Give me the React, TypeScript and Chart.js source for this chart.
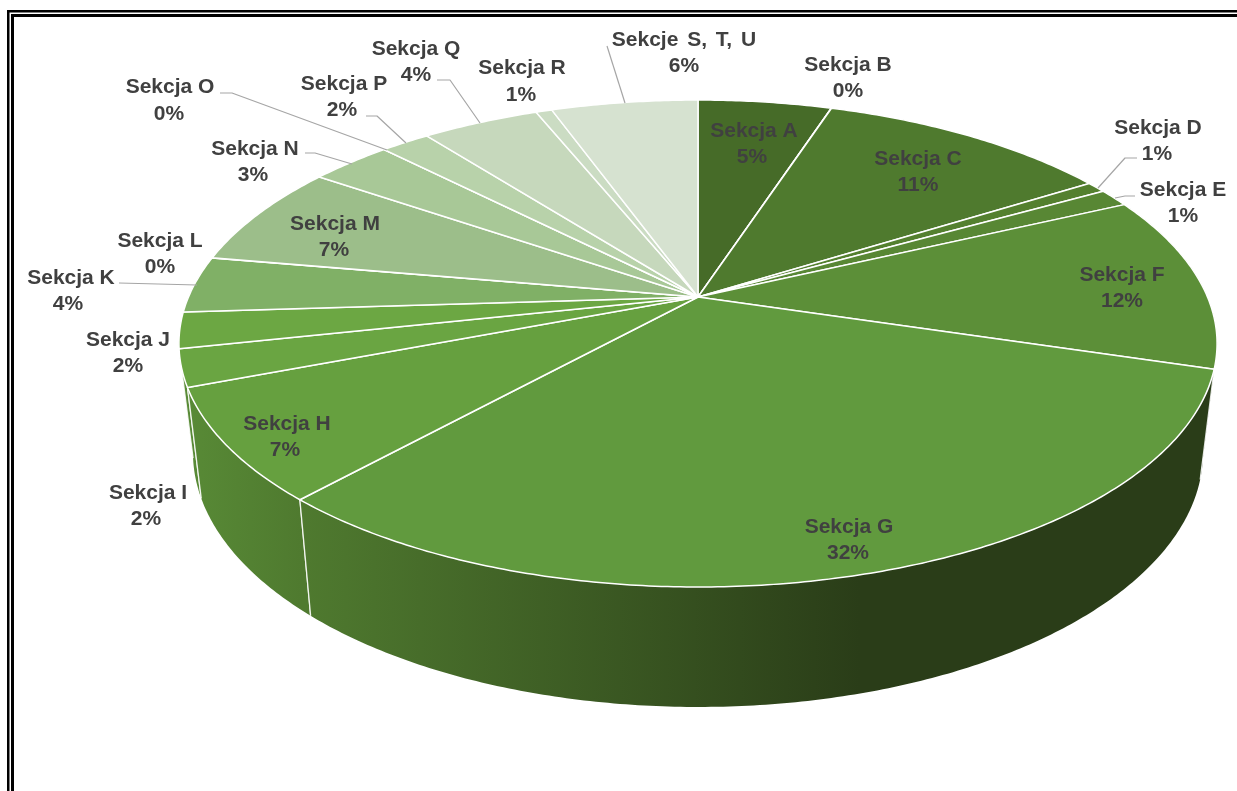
import React, { useEffect, useRef } from "react";
import { Chart, registerables } from "chart.js";

Chart.register(...registerables);

const categories = [
  "Sekcja A", "Sekcja B", "Sekcja C", "Sekcja D", "Sekcja E", "Sekcja F", "Sekcja G",
  "Sekcja H", "Sekcja I", "Sekcja J", "Sekcja K", "Sekcja L", "Sekcja M", "Sekcja N",
  "Sekcja O", "Sekcja P", "Sekcja Q", "Sekcja R", "Sekcje S, T, U",
];
const shares = [5, 0.01, 11.04, 0.75, 1.2, 11.7, 32, 7.45, 2.45, 2.4, 3.75, 0.01, 6.84, 3.05, 0.01, 1.84, 4.4, 0.6, 5.5];
const topColors = [
  "#466b28", "#4a7029", "#4f7a2e", "#54802f", "#588734", "#5c8f38", "#619a3e",
  "#66a03f", "#6aa542", "#6ca743", "#80b066", "#8cb676", "#9cbe8a", "#a8c897",
  "#aecb9f", "#b8d2aa", "#c6d8bc", "#cbdcc3", "#d6e2d0",
];
const wallFrom = [
  "#466b28", "#4a7029", "#4f7a2e", "#2a3d18", "#2a3d18", "#2a3d18", "#4f7a2f",
  "#588a36", "#5f903a", "#66a03f", "#6aa542", "#6aa542", "#6aa542", "#6aa542",
  "#6aa542", "#6aa542", "#6aa542", "#6aa542", "#6aa542",
];
const wallTo = [
  "#466b28", "#4a7029", "#4f7a2e", "#2a3d18", "#2a3d18", "#2a3d18", "#2a3d18",
  "#4f7a2f", "#588a36", "#66a03f", "#6aa542", "#6aa542", "#6aa542", "#6aa542",
  "#6aa542", "#6aa542", "#6aa542", "#6aa542", "#6aa542",
];
// Label anchors (layout only): name centre x/y, percent centre x/y.
const labelAnchors = [
  [754, 130, 752, 156], [848, 64, 848, 90], [918, 158, 918, 184], [1158, 127, 1157, 153],
  [1183, 189, 1183, 215], [1122, 274, 1122, 300], [849, 526, 848, 552], [287, 423, 285, 449],
  [148, 492, 146, 518], [128, 339, 128, 365], [71, 277, 68, 303], [160, 240, 160, 266],
  [335, 223, 334, 249], [255, 148, 253, 174], [170, 86, 169, 113], [344, 83, 342, 109],
  [416, 48, 416, 74], [522, 67, 521, 94], [684, 39, 684, 65],
];
const leaders = [
  [[220, 93], [232, 93], [387, 150]],
  [[366, 116], [377, 116], [406, 143]],
  [[305, 153], [315, 153], [352, 164]],
  [[437, 80], [450, 80], [480, 123]],
  [[607, 46], [625, 103]],
  [[1137, 158], [1125, 158], [1098, 188]],
  [[1135, 196], [1125, 196], [1115, 198]],
  [[119, 283], [197, 285]],
];

const CX = 698, CY = 297, A = 509.5, B = 234.6, K = -0.191;

function project(theta: number) {
  const u = Math.cos(theta), v = Math.sin(theta);
  const d = 1 + K * v;
  return [CX + (A * u) / d, CY + (B * v) / d];
}
function lower(p: number[]) {
  return [CX + (p[0] - CX) * 0.973, p[1] + 116 + (p[1] - 499) * 0.045];
}
function arcPoints(a0: number, a1: number) {
  const n = Math.max(2, Math.ceil((a1 - a0) / 0.01));
  const pts: number[][] = [];
  for (let i = 0; i <= n; i++) pts.push(project(a0 + ((a1 - a0) * i) / n));
  return pts;
}

const tiltedPie = {
  id: "tiltedPie",
  beforeDraw(chart: any) {
    const c = chart.ctx;
    c.save();
    c.fillStyle = "#ffffff";
    c.fillRect(0, 0, chart.width, chart.height);
    c.fillStyle = "#000000";
    c.fillRect(7, 10, 1230, 2.5);
    c.fillRect(7, 10, 2.5, 781);
    c.fillRect(11, 14, 1226, 3);
    c.fillRect(11, 14, 3, 777);
    c.restore();
  },
  beforeDatasetsDraw(chart: any) {
    const c = chart.ctx;
    const arcs = chart.getDatasetMeta(0).data;
    c.save();
    c.lineJoin = "round";
    // walls, back to front
    const order = arcs
      .map((a: any, i: number) => ({ a, i, v: Math.sin((a.startAngle + a.endAngle) / 2) }))
      .filter((o: any) => o.v > -0.35)
      .sort((p: any, q: any) => p.v - q.v);
    for (const { a, i } of order) {
      const top = arcPoints(a.startAngle, a.endAngle);
      const low = top.map(lower).reverse();
      const x0 = Math.min(top[0][0], top[top.length - 1][0]);
      const x1 = i === 6 ? 860 : Math.max(top[0][0], top[top.length - 1][0]) + 1;
      const g = c.createLinearGradient(x0, 0, x1, 0);
      g.addColorStop(0, wallFrom[i]);
      g.addColorStop(1, wallTo[i]);
      c.beginPath();
      [...top, ...low].forEach((p, k) => (k ? c.lineTo(p[0], p[1]) : c.moveTo(p[0], p[1])));
      c.closePath();
      c.fillStyle = g;
      c.fill();
      c.strokeStyle = i >= 3 && i <= 5 ? "rgba(0,0,0,0)" : "rgba(255,255,255,0.85)";
      c.lineWidth = 1.3;
      c.beginPath();
      const e0 = top[0], e1 = top[top.length - 1];
      const l0 = lower(e0), l1 = lower(e1);
      c.moveTo(e0[0], e0[1]);
      c.lineTo(l0[0], l0[1]);
      c.moveTo(e1[0], e1[1]);
      c.lineTo(l1[0], l1[1]);
      c.stroke();
    }
    // top surface
    arcs.forEach((a: any) => {
      const pts = arcPoints(a.startAngle, a.endAngle);
      c.beginPath();
      c.moveTo(CX, CY);
      pts.forEach((p) => c.lineTo(p[0], p[1]));
      c.closePath();
      c.fillStyle = a.options.backgroundColor;
      c.fill();
      c.strokeStyle = a.options.borderColor;
      c.lineWidth = a.options.borderWidth;
      c.stroke();
    });
    // leaders
    c.strokeStyle = "#a6a6a6";
    c.lineWidth = 1.2;
    leaders.forEach((l) => {
      c.beginPath();
      l.forEach((p, k) => (k ? c.lineTo(p[0], p[1]) : c.moveTo(p[0], p[1])));
      c.stroke();
    });
    // labels
    c.font = 'bold 21px "Liberation Sans"';
    c.textAlign = "center";
    c.textBaseline = "middle";
    c.fillStyle = "#404040";
    const vals = chart.data.datasets[0].data;
    chart.data.labels.forEach((name: string, i: number) => {
      const [x1, y1, x2, y2] = labelAnchors[i];
      c.wordSpacing = i === 18 ? "3px" : "0px";
      c.fillText(name, x1, y1 + 1);
      c.wordSpacing = "0px";
      c.fillText(`${Math.round(vals[i])}%`, x2, y2 + 1);
    });
    c.restore();
    return false;
  },
};

export default function App() {
  const ref = useRef<HTMLCanvasElement>(null);
  useEffect(() => {
    const chart = new Chart(ref.current as HTMLCanvasElement, {
      type: "pie",
      data: {
        labels: categories,
        datasets: [{ data: shares, backgroundColor: topColors, borderColor: "#ffffff", borderWidth: 1.5 }],
      },
      options: {
        responsive: false,
        animation: false,
        plugins: { legend: { display: false }, tooltip: { enabled: false } },
      },
      plugins: [tiltedPie],
    } as any);
    return () => chart.destroy();
  }, []);
  return (
    <div style={{ position: "fixed", left: 0, top: 0, width: 1237, height: 791 }}>
      <canvas ref={ref} width={1237} height={791} style={{ display: "block", filter: "blur(0.5px)" }} />
    </div>
  );
}
